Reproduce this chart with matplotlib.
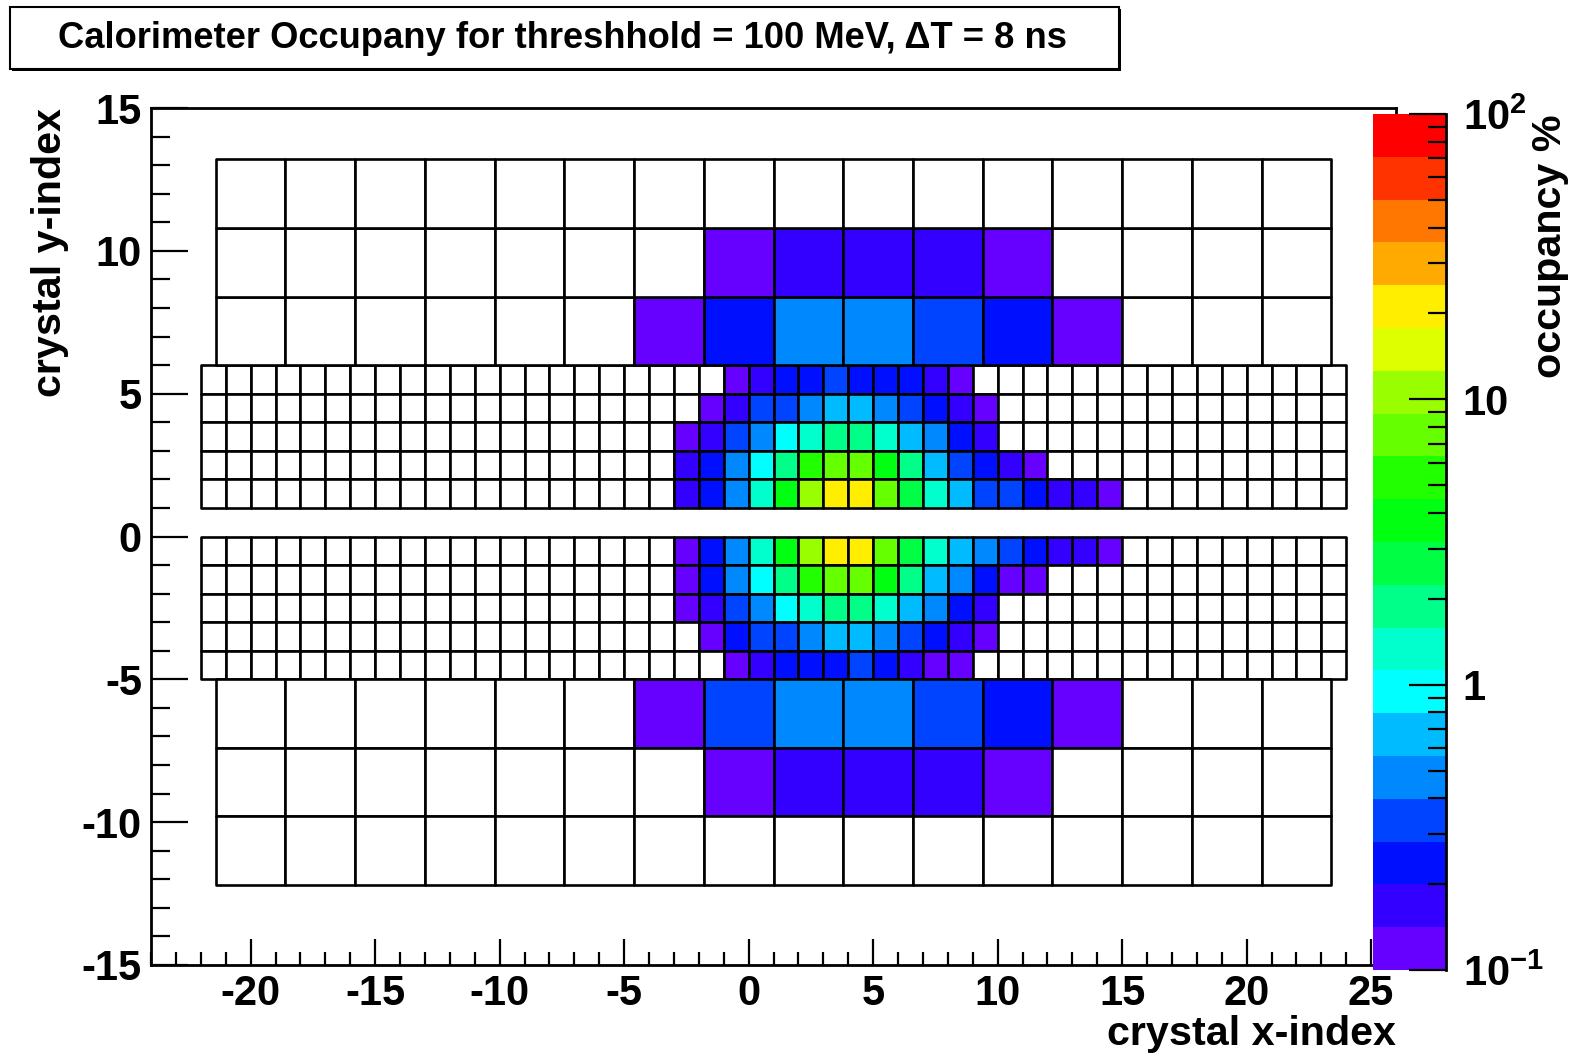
import numpy as np
import matplotlib
matplotlib.use('Agg')
import matplotlib.pyplot as plt
from matplotlib.patches import Rectangle
from matplotlib.collections import PatchCollection
from matplotlib.colors import ListedColormap, LogNorm
from matplotlib.ticker import MultipleLocator, LogLocator, NullFormatter

plt.rcParams['font.family'] = ['Liberation Sans', 'DejaVu Sans']
plt.rcParams['font.weight'] = 'bold'
plt.rcParams['axes.unicode_minus'] = False
plt.rcParams['mathtext.fontset'] = 'custom'
plt.rcParams['mathtext.rm'] = 'Liberation Sans:bold'
plt.rcParams['mathtext.bf'] = 'Liberation Sans:bold'
plt.rcParams['mathtext.default'] = 'rm'

# occupancy (%) of the small crystals, per row (lower y-index of the row)
# each row: first lit x-index, then values along x; all other crystals are empty
occ_y5 = [0.12, 0.17, 0.24, 0.24, 0.33, 0.24, 0.24, 0.24, 0.17, 0.12]
occ_y4 = [0.12, 0.17, 0.33, 0.33, 0.47, 0.67, 0.67, 0.47, 0.33, 0.24, 0.17, 0.12]
occ_y3 = [0.12, 0.17, 0.33, 0.47, 0.94, 1.33, 1.9, 1.9, 1.33, 0.67, 0.47, 0.24, 0.17]
occ_y2 = [0.17, 0.24, 0.47, 0.94, 1.9, 5.3, 7.5, 7.5, 3.8, 1.9, 0.67, 0.33, 0.24, 0.17, 0.12]
occ_y1 = [0.17, 0.24, 0.47, 1.33, 3.8, 10.6, 21, 21, 7.5, 2.7, 1.33, 0.67, 0.33, 0.33,
          0.24, 0.17, 0.17, 0.12]
occ_ym1 = [0.12, 0.24, 0.47, 1.33, 3.8, 10.6, 21, 21, 7.5, 2.7, 1.33, 0.67, 0.47, 0.33,
           0.24, 0.17, 0.17, 0.12]
occ_ym2 = [0.12, 0.24, 0.47, 0.94, 1.9, 5.3, 7.5, 7.5, 3.8, 1.9, 0.67, 0.47, 0.24, 0.12, 0.12]
occ_ym3 = [0.12, 0.17, 0.33, 0.47, 0.94, 1.33, 1.9, 1.9, 1.33, 0.67, 0.47, 0.24, 0.17]
occ_ym4 = [0.12, 0.24, 0.33, 0.33, 0.47, 0.67, 0.67, 0.47, 0.33, 0.24, 0.17, 0.12]
occ_ym5 = [0.12, 0.17, 0.24, 0.24, 0.24, 0.33, 0.24, 0.17, 0.12, 0.12]

small_rows = {5: (-1, occ_y5), 4: (-2, occ_y4), 3: (-3, occ_y3), 2: (-3, occ_y2),
              1: (-3, occ_y1), -1: (-3, occ_ym1), -2: (-3, occ_ym2), -3: (-3, occ_ym3),
              -4: (-2, occ_ym4), -5: (-1, occ_ym5)}

# big crystals: 16 per row, rows counted outward from the small-crystal block
big_upper = [
    [0, 0, 0, 0, 0, 0, 0.12, 0.24, 0.47, 0.47, 0.33, 0.24, 0.12, 0, 0, 0],
    [0, 0, 0, 0, 0, 0, 0, 0.12, 0.17, 0.17, 0.17, 0.12, 0, 0, 0, 0],
    [0] * 16,
]
big_lower = [
    [0, 0, 0, 0, 0, 0, 0.12, 0.33, 0.47, 0.47, 0.33, 0.24, 0.12, 0, 0, 0],
    [0, 0, 0, 0, 0, 0, 0, 0.12, 0.17, 0.17, 0.17, 0.12, 0, 0, 0, 0],
    [0] * 16,
]

palette = ['#6600ff', '#3300ff', '#0010ff', '#0044ff', '#0088ff', '#00bbff', '#00ffff',
           '#00ffcc', '#00ff88', '#00ff44', '#00ff10', '#22ff00', '#66ff00', '#99ff00',
           '#ddff00', '#ffee00', '#ffaa00', '#ff7700', '#ff3300', '#ff0000']

# geometry
small_xmin, n_small = -22, 46
big_xmin, big_w, big_h = -21.4, 2.8, 2.4

W, H = 1577, 1057
fig = plt.figure(figsize=(W / 100, H / 100), dpi=100)

ax = fig.add_axes([151 / W, 1 - 965 / H, (1396 - 151) / W, (965 - 108) / H])

rects, occ = [], []
for y0, (x_first, vals) in small_rows.items():
    row = np.zeros(n_small)
    i0 = x_first - small_xmin
    row[i0:i0 + len(vals)] = vals
    for i, v in enumerate(row):
        rects.append(Rectangle((small_xmin + i, y0), 1, 1))
        occ.append(v)
for r, vals in enumerate(big_upper):
    for k, v in enumerate(vals):
        rects.append(Rectangle((big_xmin + k * big_w, 6 + r * big_h), big_w, big_h))
        occ.append(v)
for r, vals in enumerate(big_lower):
    for k, v in enumerate(vals):
        rects.append(Rectangle((big_xmin + k * big_w, -5 - (r + 1) * big_h), big_w, big_h))
        occ.append(v)

cmap = ListedColormap(palette)
cmap.set_bad('white')
cmap.set_under('white')
norm = LogNorm(vmin=0.1, vmax=100)

coll = PatchCollection(rects, cmap=cmap, norm=norm, edgecolor='black', linewidth=1.9)
coll.set_array(np.array(occ))
ax.add_collection(coll)

ax.set_xlim(-24, 26)
ax.set_ylim(-15, 15)
ax.xaxis.set_major_locator(MultipleLocator(5))
ax.xaxis.set_minor_locator(MultipleLocator(1))
ax.yaxis.set_major_locator(MultipleLocator(5))
ax.yaxis.set_minor_locator(MultipleLocator(1))
ax.tick_params(axis='x', which='major', direction='in', length=18.5, width=1.6,
               labelsize=30, pad=6.5, top=False)
ax.tick_params(axis='x', which='minor', direction='in', length=9.3, width=1.6, top=False)
ax.tick_params(axis='y', which='major', direction='in', length=26.9, width=1.6,
               labelsize=30, pad=6.5, right=False)
ax.tick_params(axis='y', which='minor', direction='in', length=13.5, width=1.6, right=False)
for sp in ax.spines.values():
    sp.set_linewidth(2.0)

fig.text(1396 / W, 1 - 1045 / H, 'crystal x-index', ha='right', va='baseline', fontsize=29.7)
fig.text(50 / W, 1 - 108 / H, 'crystal y-index', rotation=90, ha='center', va='top',
         fontsize=29.7)

# colour scale
cax = fig.add_axes([1373 / W, 1 - 970 / H, (1446 - 1373) / W, (970 - 114) / H])
cbar = fig.colorbar(coll, cax=cax)
cbar.outline.set_visible(False)
cax.spines['right'].set_visible(True)
cax.spines['right'].set_linewidth(2.0)
cbar.set_ticks([0.1, 1, 10, 100], labels=[r'$10^{-1}$', '1', '10', r'$10^{2}$'])
cax.yaxis.set_minor_locator(LogLocator(base=10, subs=np.arange(2, 10)))
cax.yaxis.set_minor_formatter(NullFormatter())
cax.tick_params(which='major', direction='in', length=26.9, width=1.6, labelsize=30,
                pad=12, right=True, left=False)
cax.tick_params(which='minor', direction='in', length=13, width=1.6, right=True, left=False)
fig.text(1550 / W, 1 - 114 / H, 'occupancy %', rotation=90, ha='center', va='top',
         fontsize=29.7)

# title box
fig.add_artist(Rectangle((12 / W, 1 - 70.5 / H), 1109 / W, 61.5 / H, transform=fig.transFigure,
                         facecolor='black', edgecolor='black', lw=0))
fig.add_artist(Rectangle((10 / W, 1 - 68.5 / H), 1109 / W, 61.5 / H, transform=fig.transFigure,
                         facecolor='white', edgecolor='black', lw=1.5))
fig.text(562 / W, 1 - 48.5 / H, 'Calorimeter Occupany for threshhold = 100 MeV, \u0394T = 8 ns',
         ha='center', va='baseline', fontsize=26.2)

fig.savefig('out.png', dpi=100)
